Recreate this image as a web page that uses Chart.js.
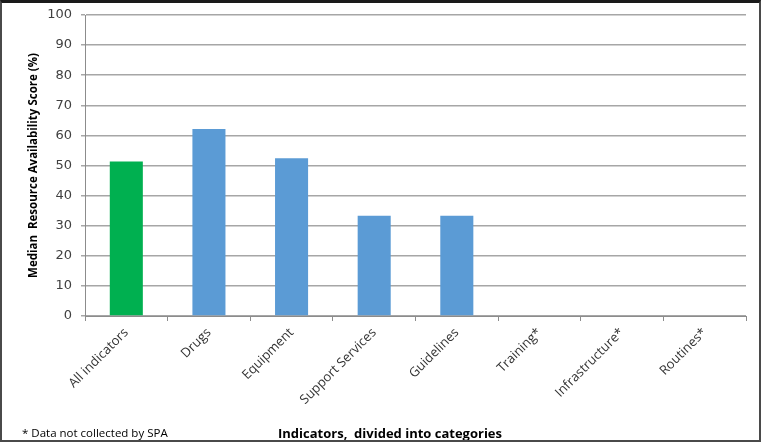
<!DOCTYPE html>
<html><head><meta charset="utf-8">
<script src="https://cdn.jsdelivr.net/npm/chart.js@4"></script>
<style>
html,body{margin:0;padding:0;background:#fff;}
#wrap{position:relative;width:761px;height:442px;box-sizing:border-box;border:2px solid #4a4a4a;border-top:3px solid #1a1a1a;background:#fff;overflow:hidden;}
#c{position:absolute;left:0;top:0;}
#note{position:absolute;left:20px;top:422px;font:11.5px "Open Sans",sans-serif;color:#000;white-space:nowrap;}
#xtitle{position:absolute;left:276px;top:421px;font:bold 13px "Open Sans",sans-serif;color:#000;white-space:nowrap;}
</style></head>
<body>
<div id="wrap"><canvas id="c" width="757" height="437"></canvas><div id="note">* Data not collected by SPA</div><div id="xtitle">Indicators,&nbsp; divided into categories</div></div>
<script>
const categories = ["All indicators","Drugs","Equipment","Support Services","Guidelines","Training*","Infrastructure*","Routines*"];
const scores = [51.3, 62.1, 52.4, 33.3, 33.3, null, null, null];
const barColors = ["#00B050","#5B9BD5","#5B9BD5","#5B9BD5","#5B9BD5","#5B9BD5","#5B9BD5","#5B9BD5"];
const yTicks = [0,10,20,30,40,50,60,70,80,90,100];

new Chart(document.getElementById('c'), {
  type: 'bar',
  data: { labels: categories, datasets: [{ data: scores, backgroundColor: barColors, borderWidth: 0, barPercentage: 0.4, categoryPercentage: 1.0 }] },
  options: {
    responsive: false, animation: false,
    layout: { padding: { top: 12, right: 13, bottom: 0, left: 0 } },
    plugins: { legend: { display: false }, tooltip: { enabled: false } },
    scales: {
      x: {
        afterFit: (s) => { s.height = 124; },
        grid: { display: true, drawOnChartArea: false, color: '#8c8c8c', tickLength: 5, offset: true },
        border: { color: '#8c8c8c', width: 1 },
        ticks: { minRotation: 45, maxRotation: 45, color: '#333333', font: { family: '"Open Sans",sans-serif', size: 13 }, padding: 4 },
        title: { display: false }
      },
      y: {
        min: 0, max: 100,
        afterFit: (s) => { s.width = 83; s.paddingTop = 0; s.paddingBottom = 0; },
        afterBuildTicks: (s) => { s.ticks = yTicks.map(v => ({ value: v })); },
        grid: { color: '#a6a6a6', lineWidth: 1.5, tickLength: 4 },
        border: { color: '#8c8c8c', width: 1 },
        ticks: { color: '#404040', font: { family: '"DejaVu Sans",sans-serif', size: 13 }, padding: 9 },
        title: { display: true, text: 'Median  Resource Availability Score (%)', color: '#000', font: { family: '"Open Sans",sans-serif', size: 11.5, weight: 'bold' }, padding: { top: 25, bottom: 0 } }
      }
    }
  }
});
</script>
</body></html>
